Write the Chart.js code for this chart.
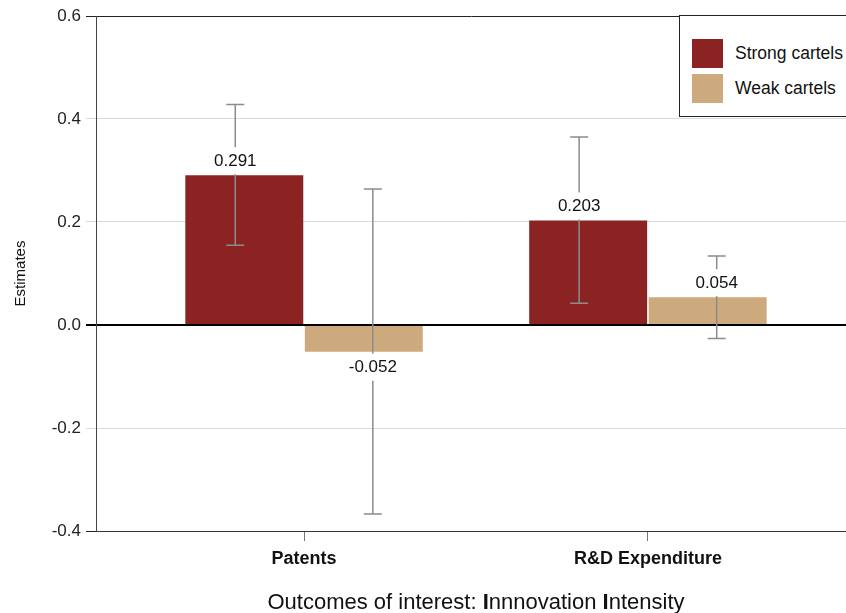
<!DOCTYPE html>
<html>
<head>
<meta charset="utf-8">
<script src="https://cdn.jsdelivr.net/npm/chart.js@4.4.0/dist/chart.umd.min.js"></script>
<style>
	html, body { margin: 0; padding: 0; background: #fff; overflow: hidden; }
	#wrap { position: relative; width: 846px; height: 613px; font-family: "Liberation Sans", Arial, sans-serif; }
	#legend { position: absolute; left: 679px; top: 15px; width: 200px; height: 102px; border: 1px solid #222; background: #fff; box-sizing: border-box; }
	.item { position: absolute; left: 12px; height: 29px; line-height: 29px; font-size: 17.5px; color: #111; white-space: nowrap; }
	.sw { display: inline-block; width: 31px; height: 29px; vertical-align: top; margin-right: 12px; }
	#xtitle { position: absolute; left: 96px; width: 760px; top: 589px; text-align: center; font-size: 22px; line-height: 26px; color: #111; }
	#xtitle b { font-weight: bold; }
</style>
</head>
<body>
<div id="wrap">
	<canvas id="chart" width="846" height="613"></canvas>
	<div id="legend">
		<div class="item" style="top:23px"><span class="sw" style="background:#8b2323"></span>Strong cartels</div>
		<div class="item" style="top:58px"><span class="sw" style="background:#cdaa7d"></span>Weak cartels</div>
	</div>
	<div id="xtitle">Outcomes of interest: <b>I</b>nnnovation <b>I</b>ntensity</div>
</div>
<script>
const categories = ['Patents', 'R&D Expenditure'];
const strongValues = [0.291, 0.203];
const strongLower = [0.155, 0.042];
const strongUpper = [0.428, 0.365];
const weakValues = [-0.052, 0.054];
const weakLower = [-0.367, -0.026];
const weakUpper = [0.264, 0.134];
const yTicks = [-0.4, -0.2, 0.0, 0.2, 0.4, 0.6];

const strongColor = '#8b2323';
const weakColor = '#cdaa7d';
const fontFamily = '"Liberation Sans", Arial, sans-serif';

// error bars and labels sit a bit off the bar centres, like the original
const series = [
	{ values: strongValues, lower: strongLower, upper: strongUpper, shift: -0.2 },
	{ values: weakValues, lower: weakLower, upper: weakUpper, shift: 0.2 }
];

const errPlugin = {
	id: 'errbars',
	afterDatasetsDraw(chart) {
		const ctx = chart.ctx;
		const xs = chart.scales.x, ys = chart.scales.y;
		ctx.save();
		// error bars
		ctx.strokeStyle = '#8c8c8c';
		ctx.lineWidth = 1.5;
		series.forEach(s => {
			s.values.forEach((v, i) => {
				const xp = xs.getPixelForValue(i + 1 + s.shift);
				const top = ys.getPixelForValue(s.upper[i]);
				const bot = ys.getPixelForValue(s.lower[i]);
				ctx.beginPath();
				ctx.moveTo(xp, top); ctx.lineTo(xp, bot);
				ctx.moveTo(xp - 9, top); ctx.lineTo(xp + 9, top);
				ctx.moveTo(xp - 9, bot); ctx.lineTo(xp + 9, bot);
				ctx.stroke();
			});
		});
		// value labels with white box over the error bar
		ctx.font = '17px ' + fontFamily;
		ctx.textAlign = 'center';
		ctx.textBaseline = 'middle';
		series.forEach(s => {
			s.values.forEach((v, i) => {
				const xp = xs.getPixelForValue(i + 1 + s.shift);
				const end = ys.getPixelForValue(v);
				const cy = v >= 0 ? end - 15 : end + 15;
				const txt = v.toFixed(3);
				const w = ctx.measureText(txt).width + 4;
				ctx.fillStyle = '#fff';
				ctx.fillRect(xp - w / 2, cy - 13, w, 27);
				ctx.fillStyle = '#111';
				ctx.fillText(txt, xp, cy + 1);
			});
		});
		ctx.restore();
	}
};

const bg = {
	id: 'bg',
	beforeDraw(chart) {
		const ctx = chart.ctx;
		ctx.save();
		ctx.fillStyle = '#fff';
		ctx.fillRect(0, 0, chart.width, chart.height);
		ctx.restore();
	}
};

new Chart(document.getElementById('chart'), {
	type: 'bar',
	data: {
		datasets: [
			{
				label: 'Strong cartels',
				data: categories.map((c, i) => ({ x: i + 1, y: strongValues[i] })),
				backgroundColor: strongColor
			},
			{
				label: 'Weak cartels',
				data: categories.map((c, i) => ({ x: i + 1, y: weakValues[i] })),
				backgroundColor: weakColor
			}
		]
	},
	options: {
		responsive: false,
		animation: false,
		categoryPercentage: 0.695,
		barPercentage: 0.987,
		layout: { padding: { top: 16, left: 0, right: 0, bottom: 0 } },
		plugins: {
			legend: { display: false },
			tooltip: { enabled: false }
		},
		scales: {
			x: {
				type: 'linear',
				offset: false,
				min: 0.395,
				max: 2.576,
				afterBuildTicks: s => { s.ticks = categories.map((c, i) => ({ value: i + 1 })); },
				afterFit: s => { s.height = 82; },
				ticks: {
					autoSkip: false,
					maxRotation: 0,
					padding: 7,
					color: '#111',
					font: { family: fontFamily, size: 18, weight: 'bold' },
					callback: v => categories[Math.round(v) - 1]
				},
				grid: { offset: false, drawOnChartArea: false, tickLength: 10, color: '#777' },
				border: { color: '#333', width: 1 }
			},
			y: {
				min: -0.4,
				max: 0.6,
				afterBuildTicks: s => { s.ticks = yTicks.map(v => ({ value: v })); },
				afterFit: s => { s.width = 96; },
				ticks: {
					padding: 5,
					color: '#222',
					font: { family: fontFamily, size: 17 },
					callback: v => Math.abs(v) < 1e-9 ? '0.0' : v.toFixed(1)
				},
				grid: {
					tickLength: 10,
					color: c => {
						const v = c.tick ? c.tick.value : 0;
						if (Math.abs(v) < 1e-9) return '#000';
						if (Math.abs(v - 0.6) < 1e-9 || Math.abs(v + 0.4) < 1e-9) return '#222';
						return '#d9d9d9';
					},
					lineWidth: c => (c.tick && Math.abs(c.tick.value) < 1e-9) ? 2 : 1
				},
				border: { color: '#444', width: 1 },
				title: {
					display: true,
					text: 'Estimates',
					color: '#111',
					padding: { top: 12, bottom: 0 },
					font: { family: fontFamily, size: 15 }
				}
			}
		}
	},
	plugins: [bg, errPlugin]
});
</script>
</body>
</html>
